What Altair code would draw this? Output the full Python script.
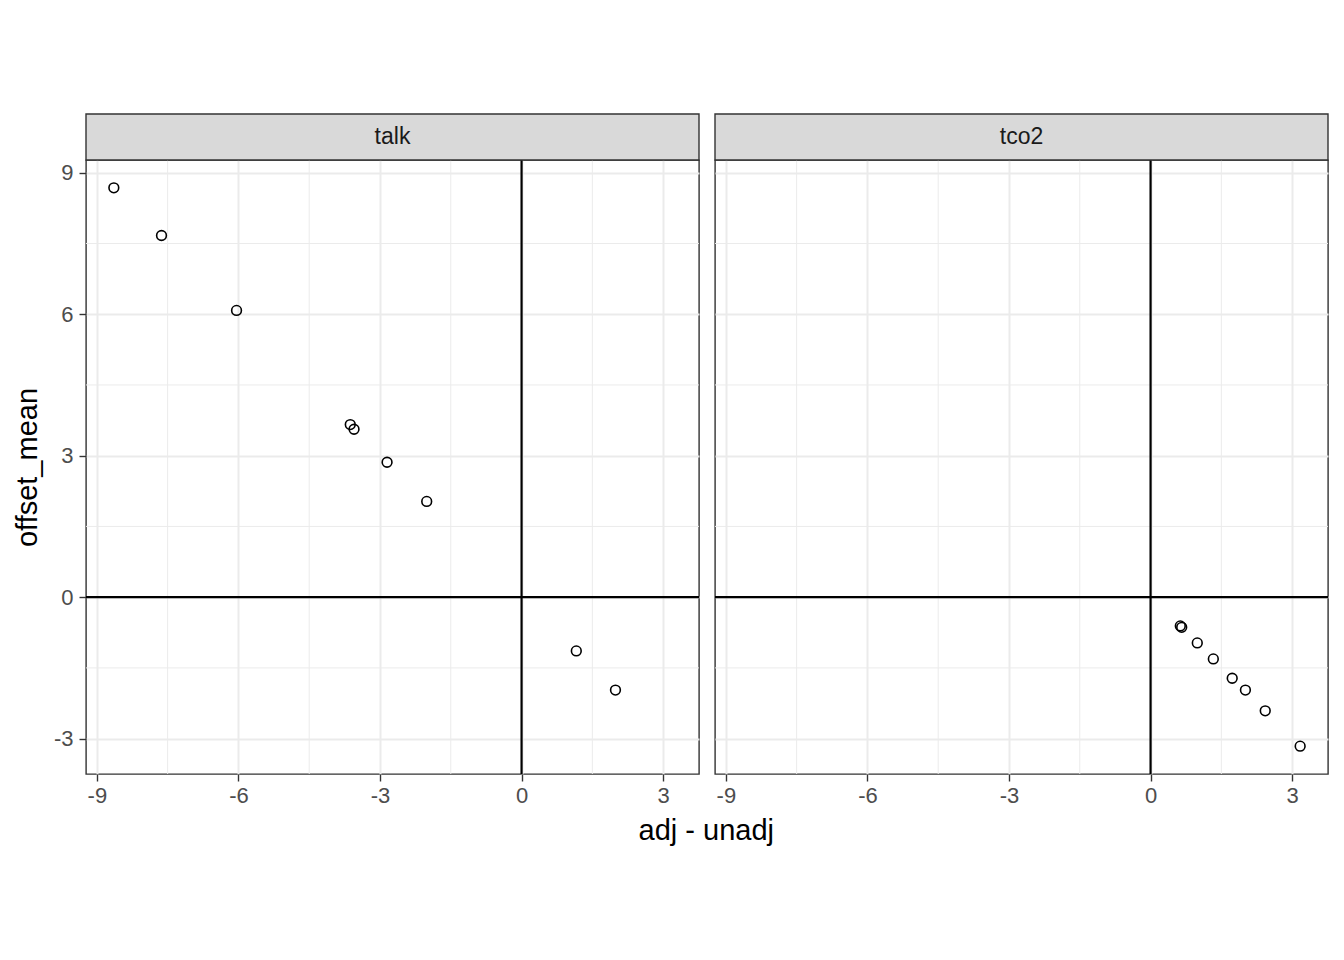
import altair as alt
import pandas as pd

panels = ["talk", "tco2"]
talk_x = [-8.64, -7.63, -6.04, -3.63, -3.55, -2.85, -2.01, 1.16, 1.99]
talk_y = [8.68, 7.67, 6.08, 3.66, 3.56, 2.86, 2.03, -1.14, -1.97]
tco2_x = [0.63, 0.66, 0.99, 1.33, 1.73, 2.01, 2.43, 3.17]
tco2_y = [-0.61, -0.64, -0.97, -1.31, -1.72, -1.97, -2.41, -3.16]

x_ticks = [-9, -6, -3, 0, 3]
y_ticks = [-3, 0, 3, 6, 9]
x_minor = [-7.5, -4.5, -1.5, 1.5]
y_minor = [-1.5, 1.5, 4.5, 7.5]
x_domain = [-9.23, 3.76]
y_domain = [-3.75, 9.27]
zero = [0]

W = 613
H = 614
STRIP_H = 46
FONT = "Liberation Sans"
GRID = "#EBEBEB"
MINUS_FIX = "replace(datum.label, '\u2212', '-')"


def make_axes(first):
    xaxis = alt.Axis(values=x_ticks, title=None, grid=True, gridColor=GRID, gridWidth=2,
                     domain=False, tickColor="#333333", tickWidth=1.4, tickSize=7,
                     labelFontSize=22, labelColor="#4D4D4D", labelPadding=4, labelFont=FONT,
                     labelExpr=MINUS_FIX)
    if first:
        yaxis = alt.Axis(values=y_ticks, title="offset_mean", grid=True, gridColor=GRID, gridWidth=2,
                         domain=False, tickColor="#333333", tickWidth=1.4, tickSize=7,
                         labelFontSize=22, labelColor="#4D4D4D", labelPadding=6, labelFont=FONT,
                         labelExpr=MINUS_FIX,
                         titleFontSize=29, titleFont=FONT, titleColor="black",
                         titleFontWeight="normal", titlePadding=11)
    else:
        yaxis = alt.Axis(values=y_ticks, title=None, labels=False, ticks=False, domain=False,
                         grid=True, gridColor=GRID, gridWidth=2)
    return xaxis, yaxis


def panel(name, xs, ys, first):
    xaxis, yaxis = make_axes(first)
    xs_ = alt.Scale(domain=x_domain, nice=False, zero=False)
    ys_ = alt.Scale(domain=y_domain, nice=False, zero=False)
    df = pd.DataFrame({"x": xs, "y": ys})
    vminor = alt.Chart(pd.DataFrame({"v": x_minor})).mark_rule(color=GRID, strokeWidth=1).encode(
        x=alt.X("v:Q", scale=xs_, axis=xaxis))
    hminor = alt.Chart(pd.DataFrame({"v": y_minor})).mark_rule(color=GRID, strokeWidth=1).encode(
        y=alt.Y("v:Q", scale=ys_, axis=yaxis))
    vzero = alt.Chart(pd.DataFrame({"v": zero})).mark_rule(color="black", strokeWidth=2.2).encode(
        x=alt.X("v:Q", scale=xs_, axis=xaxis))
    hzero = alt.Chart(pd.DataFrame({"v": zero})).mark_rule(color="black", strokeWidth=2.2).encode(
        y=alt.Y("v:Q", scale=ys_, axis=yaxis))
    pts = alt.Chart(df).mark_point(shape="circle", filled=False, color="black",
                                   strokeWidth=1.6, size=95, opacity=1).encode(
        x=alt.X("x:Q", scale=xs_, axis=xaxis),
        y=alt.Y("y:Q", scale=ys_, axis=yaxis))
    lab = alt.Chart(pd.DataFrame({"label": [name]}))
    srect = lab.mark_rect(fill="#D9D9D9", stroke="#333333", strokeWidth=1.4).encode(
        x=alt.value(0), x2=alt.value(W), y=alt.value(-STRIP_H), y2=alt.value(0))
    stext = lab.mark_text(fontSize=23, color="#1A1A1A", font=FONT).encode(
        x=alt.value(W / 2), y=alt.value(-STRIP_H / 2), text="label:N")
    return alt.layer(vminor, hminor, vzero, hzero, pts, srect, stext).properties(width=W, height=H)


left = panel(panels[0], talk_x, talk_y, True)
right = panel(panels[1], tco2_x, tco2_y, False)

chart = alt.hconcat(left, right, spacing=12).properties(
    title=alt.TitleParams("adj - unadj", orient="bottom", anchor="middle", fontSize=29,
                          font=FONT, color="black", fontWeight="normal", dx=35, offset=10),
    padding={"top": 104, "left": 4, "right": 0, "bottom": 8},
).configure_view(stroke="#333333", strokeWidth=1.4)

chart.save("out.html", embed_options={"renderer": "svg", "actions": False})
